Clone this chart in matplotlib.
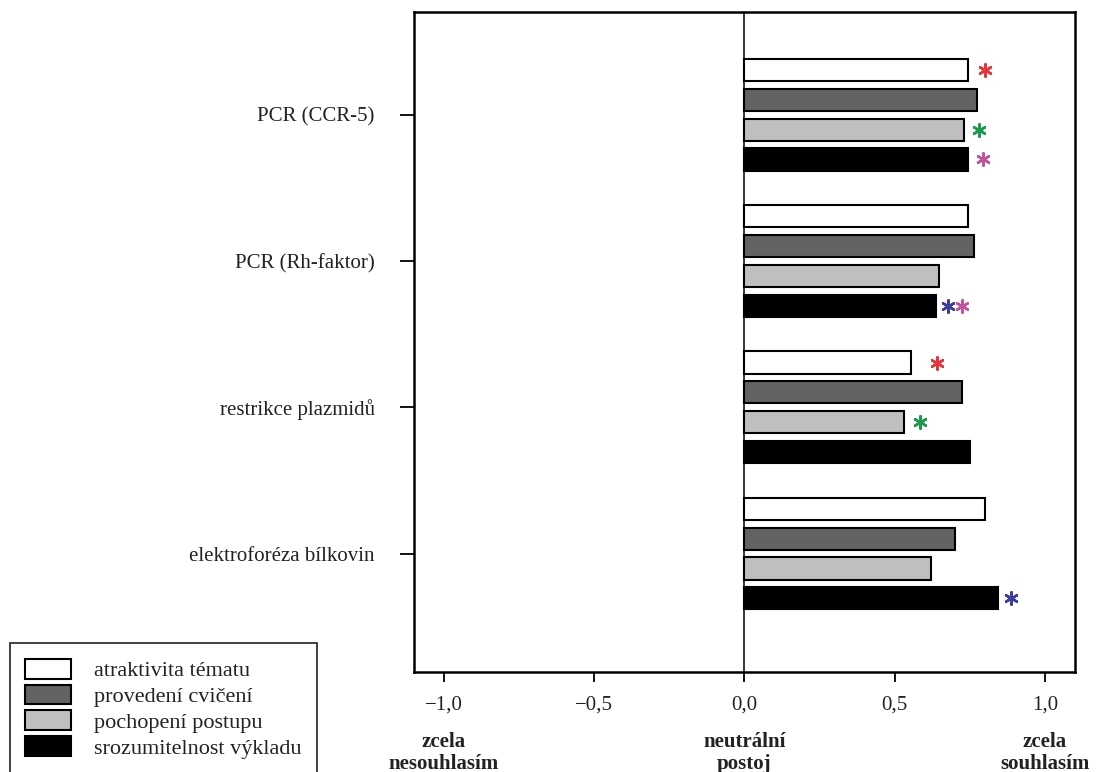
import numpy as np
import matplotlib.pyplot as plt
from matplotlib.patches import Patch

plt.rcParams['font.family'] = ['Liberation Serif', 'DejaVu Serif']

categories = ['PCR (CCR-5)', 'PCR (Rh-faktor)', 'restrikce plazmidů', 'elektroforéza bílkovin']
series = ['atraktivita tématu', 'provedení cvičení', 'pochopení postupu', 'srozumitelnost výkladu']
colors = ['white', '#636363', '#bfbfbf', 'black']

# values per series, in category order
atraktivita = [0.743, 0.745, 0.555, 0.802]
provedeni = [0.775, 0.763, 0.723, 0.702]
pochopeni = [0.730, 0.649, 0.530, 0.622]
srozumitelnost = [0.743, 0.636, 0.750, 0.843]
values = [atraktivita, provedeni, pochopeni, srozumitelnost]

# significance marks: (category, series, colour, gap after bar end)
stars = [
    (0, 0, '#e8323c', 0.057),
    (0, 2, '#1a9a4a', 0.050),
    (0, 3, '#c0549c', 0.050),
    (1, 3, '#3c3c9c', 0.043),
    (1, 3, '#c0549c', 0.089),
    (2, 0, '#e8323c', 0.087),
    (2, 2, '#1a9a4a', 0.053),
    (3, 3, '#3c3c9c', 0.043),
]

xticks = [-1.0, -0.5, 0.0, 0.5, 1.0]
xticklabels = ['−1,0', '−0,5', '0,0', '0,5', '1,0']
scale_labels = ['zcela\nnesouhlasím', 'neutrální\npostoj', 'zcela\nsouhlasím']

fig = plt.figure(figsize=(10.97, 7.72), dpi=100)
ax = fig.add_axes([0.377, 0.1295, 0.603, 0.8545])

y = np.arange(len(categories))
step = 0.204
offsets = (np.arange(len(series)) - 1.5) * step
for i, vals in enumerate(values):
    ax.barh(y + offsets[i], vals, height=0.152, color=colors[i],
            edgecolor='black', linewidth=1.5, label=series[i], zorder=2)

for c, s, col, gap in stars:
    ax.scatter(values[s][c] + gap, y[c] + offsets[s], marker=(6, 2, 0),
               s=80, color=col, linewidths=1.8, zorder=3)

ax.axvline(0, color='black', linewidth=1.1, zorder=1)
ax.set_xlim(-1.1, 1.1)
ax.set_ylim(3.81, -0.70)
ax.set_yticks(y)
ax.set_yticklabels(categories, fontsize=15, color='#222222')
ax.set_xticks(xticks)
ax.set_xticklabels(xticklabels, fontsize=15, color='#222222')
ax.tick_params(axis='y', length=10, width=1.3, pad=18)
ax.tick_params(axis='x', length=7, width=1.3, pad=10)
for sp in ax.spines.values():
    sp.set_linewidth(1.8)

for xv, lab in zip([-1.0, 0.0, 1.0], scale_labels):
    ax.annotate(lab, xy=(xv, 0), xycoords=('data', 'axes fraction'),
                xytext=(0, -43), textcoords='offset points', ha='center', va='top',
                fontsize=15, fontweight='bold', color='#222222', linespacing=1.15)

handles = [Patch(facecolor=c, edgecolor='black', linewidth=1.5) for c in colors]
leg = fig.legend(handles, series, loc='upper left', bbox_to_anchor=(0.009, 0.167),
                 fontsize=16, frameon=True, fancybox=False, edgecolor='black',
                 handlelength=2.07, handleheight=1.0, labelspacing=0.15,
                 handletextpad=1.0, borderpad=0.7, borderaxespad=0)
leg.get_frame().set_linewidth(1.3)
for t in leg.get_texts():
    t.set_color('#222222')

fig.savefig('out.png', dpi=100)
